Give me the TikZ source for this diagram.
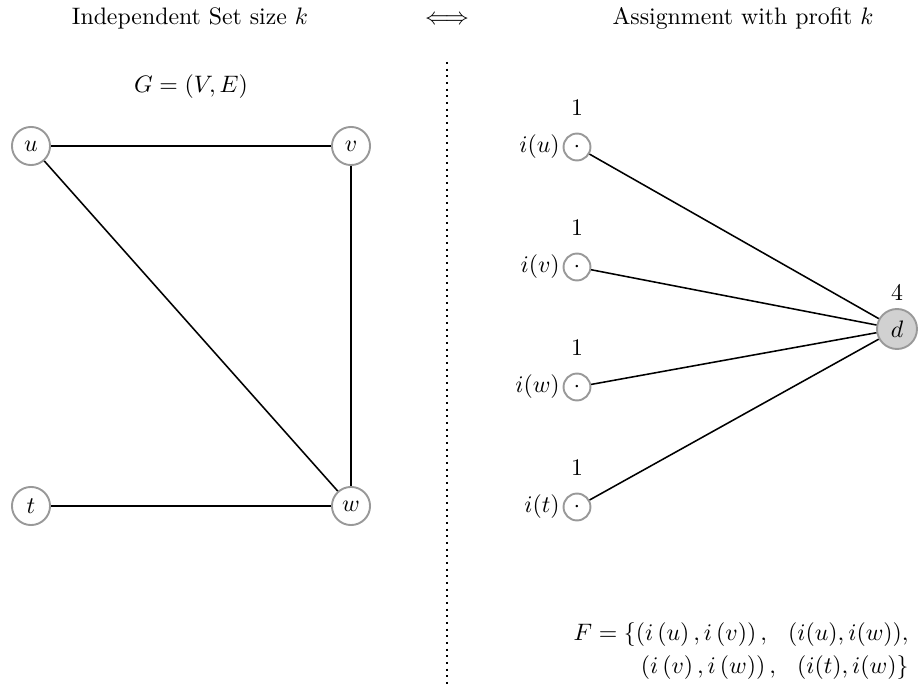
\documentclass[tikz,border=0pt]{standalone}
\usepackage{amsmath}
\begin{document}
\begin{tikzpicture}[x=0.42pt,y=-0.42pt,
  bignode/.style={circle,draw=black!40,line width=0.8pt,minimum size=16pt,inner sep=0pt,fill=white},
  smallnode/.style={circle,draw=black!40,line width=0.8pt,minimum size=11.3pt,inner sep=0pt,fill=white},
  dnode/.style={circle,draw=black!40,line width=0.8pt,minimum size=16.8pt,inner sep=0pt,fill=black!18},
  edge/.style={line width=0.65pt,black}]
\useasboundingbox (0,0) rectangle (919,687);
\node (t1) at (190,18) {Independent Set size $k$};
\node (iff) at (447,20) {$\iff$};
\node (t2) at (743,18) {Assignment with profit $k$};
\node (g) at (191,87) {$G=(V,E)$};
\coordinate (dtop) at (447,62);
\coordinate (dbot) at (447,687);
\draw[dotted,line width=0.8pt] (dtop) -- (dbot);
% left graph
\node[bignode] (u) at (31,146) {$u$};
\node[bignode] (v) at (351,146) {$v$};
\node[bignode] (t) at (31,506) {$t$};
\node[bignode] (w) at (351,506) {$w$};
\draw[edge] (u) -- (v);
\draw[edge] (u) -- (w);
\draw[edge] (v) -- (w);
\draw[edge] (t) -- (w);
% right side
\node[dnode] (d) at (897,329) {$d$};
\node (d4) at (897,292) {4};
\foreach \n/\y in {u/147,v/267,w/387,t/507}{
  \node[smallnode] (i\n) at (577,\y) {$\cdot$};
  \node[anchor=east,inner sep=1pt] (l\n) at (i\n.west) {$i(\n)$};
  \node (o\n) at (577,\y-39) {1};
  \draw[edge] (i\n) -- (d);
}
\node[anchor=east,align=right] (F) at (917,651) {$F=\{\left(i\left(u\right),i\left(v\right)\right),\;\;\, (i(u),i(w)),$\\[2pt] $\left(i\left(v\right),i\left(w\right)\right),\;\;\, (i(t),i(w)\}$};
\end{tikzpicture}
\end{document}
